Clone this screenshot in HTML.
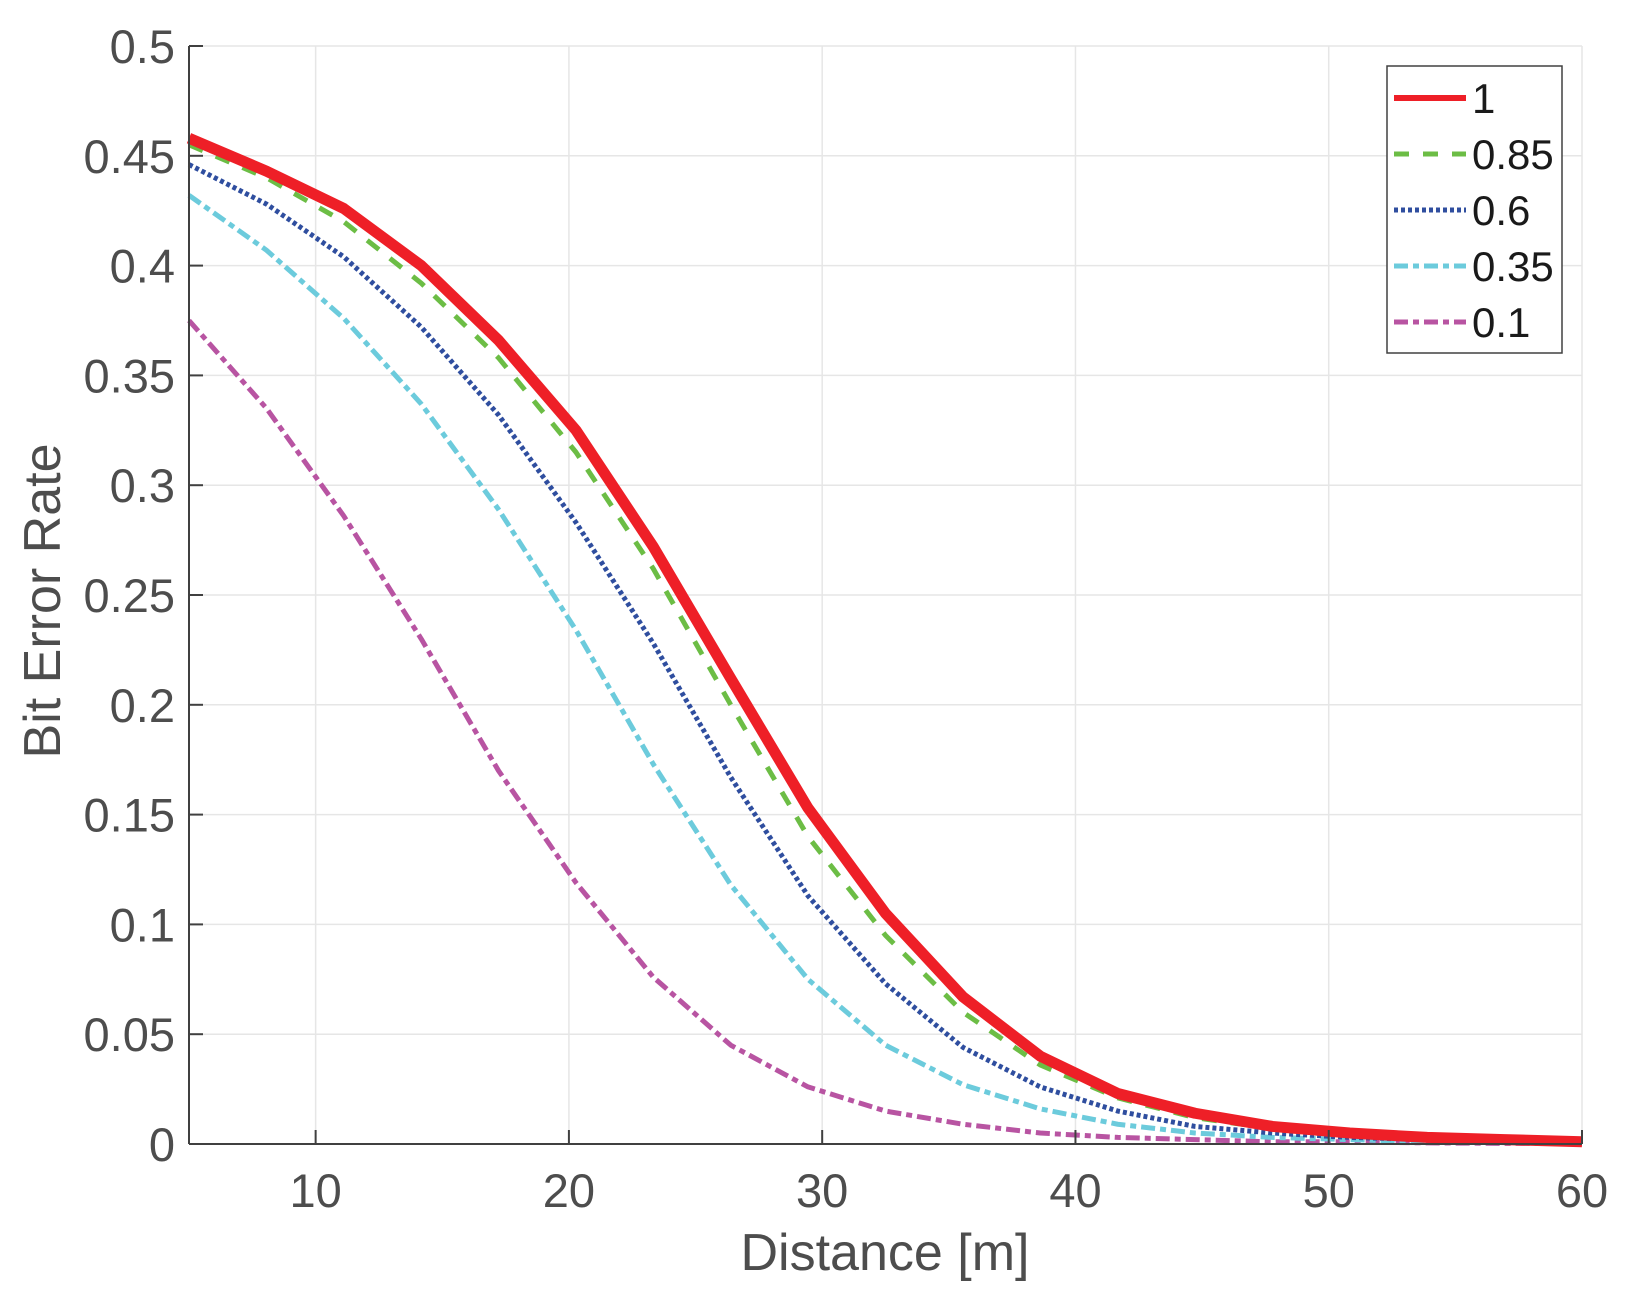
<!DOCTYPE html>
<html><head><meta charset="utf-8"><style>
html,body{margin:0;padding:0;background:#fff;}
svg{display:block;font-family:"Liberation Sans",sans-serif;}
</style></head><body>
<svg id="chart" width="1646" height="1310" viewBox="0 0 1646 1310" xmlns="http://www.w3.org/2000/svg">
<g id="grid"></g>
<g id="series"></g>
<g id="axes"></g>
<text x="885" y="1270" text-anchor="middle" font-size="52" fill="#4d4d4d">Distance [m]</text>
<text transform="translate(60,601) rotate(-90)" text-anchor="middle" font-size="52" fill="#4d4d4d">Bit Error Rate</text>
<g id="legend"></g>
</svg>
<script>
const xs = [5,8.06,11.11,14.17,17.22,20.28,23.33,26.39,29.44,32.5,35.56,38.61,41.67,44.72,47.78,50.83,53.89,56.94,60];
const s1 = [0.458,0.443,0.426,0.400,0.366,0.325,0.272,0.212,0.153,0.105,0.067,0.040,0.023,0.014,0.008,0.005,0.003,0.002,0.001];
const s085 = [0.455,0.440,0.420,0.392,0.358,0.315,0.262,0.200,0.140,0.095,0.060,0.036,0.021,0.012,0.007,0.004,0.002,0.0015,0.001];
const s06 = [0.446,0.428,0.404,0.372,0.332,0.283,0.228,0.167,0.113,0.073,0.044,0.026,0.015,0.008,0.005,0.003,0.002,0.001,0.001];
const s035 = [0.432,0.407,0.376,0.337,0.289,0.234,0.173,0.118,0.075,0.045,0.027,0.016,0.009,0.005,0.003,0.002,0.001,0.001,0.0005];
const s01 = [0.375,0.335,0.286,0.230,0.170,0.119,0.076,0.045,0.026,0.015,0.009,0.005,0.003,0.002,0.001,0.001,0.0005,0.0003,0.0002];
const xTicks = [10,20,30,40,50,60];
const yTicks = [0,0.05,0.1,0.15,0.2,0.25,0.3,0.35,0.4,0.45,0.5];
const yTickLabels = ["0","0.05","0.1","0.15","0.2","0.25","0.3","0.35","0.4","0.45","0.5"];
const legendLabels = ["1","0.85","0.6","0.35","0.1"];

const L=189,R=1582,T=46,B=1144;
const X=v=>L+(v-5)/55*(R-L);
const Y=v=>B-v/0.5*(B-T);
const NS="http://www.w3.org/2000/svg";
function mk(tag,attrs,parent){const e=document.createElementNS(NS,tag);for(const k in attrs)e.setAttribute(k,attrs[k]);parent.appendChild(e);return e;}
const grid=document.getElementById('grid'),axes=document.getElementById('axes'),ser=document.getElementById('series'),leg=document.getElementById('legend');
xTicks.forEach(t=>{
  const g=mk('line',{x1:X(t),x2:X(t),y1:T,y2:B,stroke:'#e6e6e6','stroke-width':1.5},grid);
  
  
  const tk=mk('line',{x1:X(t),x2:X(t),y1:B,y2:B-14,stroke:'#404040','stroke-width':2},axes);
  
  
  const tx=mk('text',{x:X(t),y:B+63,'text-anchor':'middle','font-size':47,fill:'#4d4d4d'},axes);
  tx.textContent=t;
  
  
});
yTicks.forEach((t,i)=>{
  const g=mk('line',{x1:L,x2:R,y1:Y(t),y2:Y(t),stroke:'#e6e6e6','stroke-width':1.5},grid);
  
  
  const tk=mk('line',{x1:L,x2:L+14,y1:Y(t),y2:Y(t),stroke:'#404040','stroke-width':2},axes);
  
  
  const tx=mk('text',{x:L-14,y:Y(t)+17,'text-anchor':'end','font-size':47,fill:'#4d4d4d'},axes);
  tx.textContent=yTickLabels[i];
  
  
});
const ax1=mk('line',{x1:L,x2:L,y1:T,y2:B,stroke:'#404040','stroke-width':2},axes);


const ax2=mk('line',{x1:L,x2:R,y1:B,y2:B,stroke:'#404040','stroke-width':2},axes);



const styles=[
 {d:s1,c:'#ee1f27',w:11,dash:''},
 {d:s085,c:'#6cbd45',w:5,dash:'15 14'},
 {d:s06,c:'#2f4e9f',w:5,dash:'4 3'},
 {d:s035,c:'#6ccbdc',w:5,dash:'14 5 6 5'},
 {d:s01,c:'#b854a2',w:5,dash:'14 5 6 5'}
];
const names=['series-1','series-0-85','series-0-6','series-0-35','series-0-1'];
for(let k=styles.length-1;k>=0;k--){
  const s=styles[k];
  const pts=xs.map((x,i)=>X(x)+','+Y(s.d[i])).join(' ');
  const p=mk('polyline',{points:pts,fill:'none',stroke:s.c,'stroke-width':s.w,'stroke-dasharray':s.dash,'stroke-linejoin':'round'},ser);
  
  
}
const box=mk('rect',{x:1387,y:66,width:175,height:287,fill:'#fff',stroke:'#404040','stroke-width':1.5},leg);


styles.forEach((s,i)=>{
  const y=98+i*56;
  const l=mk('line',{x1:1394,x2:1466,y1:y,y2:y,stroke:s.c,'stroke-width':i===0?6:5,'stroke-dasharray':s.dash},leg);
  
  
  const t=mk('text',{x:1472,y:y+15,'font-size':42,fill:'#1a1a1a'},leg);
  t.textContent=legendLabels[i];
  
  
});
</script>
</body></html>
